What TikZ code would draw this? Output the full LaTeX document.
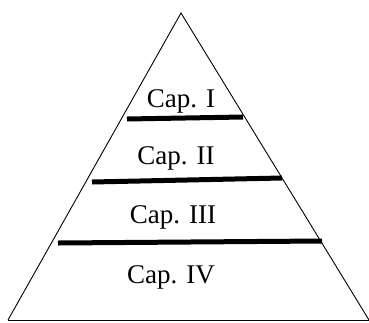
\documentclass[tikz,border=0pt]{standalone}
\usepackage{fontspec}
\setmainfont{Liberation Serif}
\begin{document}
\begin{tikzpicture}[x=1pt,y=-1pt,
  edge/.style={line width=0.9pt},
  bar/.style={line width=5pt},
  lab/.style={font=\fontsize{27}{30}\selectfont, inner sep=0pt, anchor=base}]
\useasboundingbox (0,0) rectangle (369,322);
\coordinate (apex) at (181,13);
\coordinate (bl) at (8,320);
\coordinate (br) at (369,320);
\draw[edge, line join=miter] (bl) -- (apex) -- (br);
\draw[edge] (bl) -- (br);
\coordinate (b1l) at (127,119); \coordinate (b1r) at (243,117);
\coordinate (b2l) at (92,182);  \coordinate (b2r) at (282,178);
\coordinate (b3l) at (58,243);  \coordinate (b3r) at (322,241);
\draw[bar] (b1l) -- (b1r);
\draw[bar] (b2l) -- (b2r);
\draw[bar] (b3l) -- (b3r);
\node[lab] (c1) at (181,107) {Cap. I};
\node[lab] (c2) at (176,164) {Cap. II};
\node[lab] (c3) at (173,223) {Cap. III};
\node[lab] (c4) at (171,283) {Cap. IV};
\end{tikzpicture}
\end{document}
